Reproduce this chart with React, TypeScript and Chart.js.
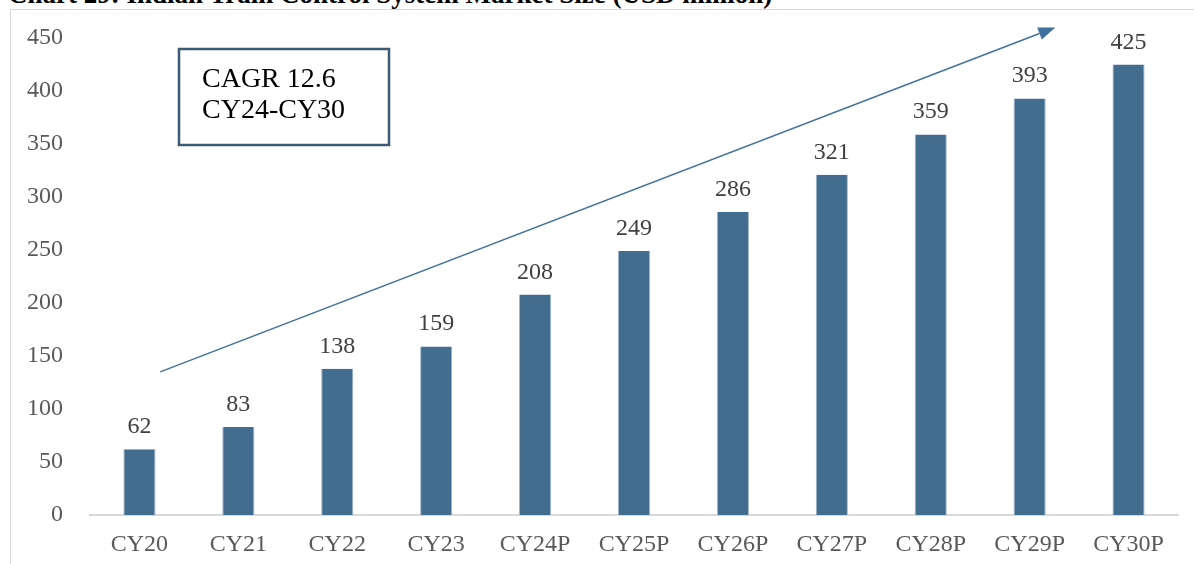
import React, { useEffect, useRef } from "react";
import { Chart, registerables } from "chart.js";

Chart.register(...registerables);

const categories = ["CY20", "CY21", "CY22", "CY23", "CY24P", "CY25P", "CY26P", "CY27P", "CY28P", "CY29P", "CY30P"];
const marketSize = [62, 83, 138, 159, 208, 249, 286, 321, 359, 393, 425];
const yTicks = [0, 50, 100, 150, 200, 250, 300, 350, 400, 450];
const titleText = "Chart 29: Indian Train Control System Market Size (USD million)";
const cagrLines = ["CAGR 12.6", "CY24-CY30"];
// arrow in data space: [category index, value]
const arrowStart = [0.21, 135];
const arrowEnd = [9.26, 460];

const FONT = "'Liberation Serif', 'Times New Roman', serif";

const overlayPlugin = {
  id: "overlay",
  afterDatasetsDraw(chart: any) {
    const { ctx } = chart;
    const xs = chart.scales.x;
    const ys = chart.scales.y;
    const meta = chart.getDatasetMeta(0);
    // data labels
    ctx.save();
    ctx.font = `24px ${FONT}`;
    ctx.fillStyle = "#404040";
    ctx.textAlign = "center";
    ctx.textBaseline = "alphabetic";
    meta.data.forEach((bar: any, i: number) => {
      ctx.fillText(String(marketSize[i]), bar.x, bar.y - 16);
    });
    ctx.restore();

    // arrow
    const step = xs.getPixelForValue(1) - xs.getPixelForValue(0);
    const x0 = xs.getPixelForValue(0) + arrowStart[0] * step;
    const y0 = ys.getPixelForValue(arrowStart[1]);
    const x1 = xs.getPixelForValue(0) + arrowEnd[0] * step;
    const y1 = ys.getPixelForValue(arrowEnd[1]);
    const ang = Math.atan2(y1 - y0, x1 - x0);
    const headLen = 17;
    const headW = 6.5;
    const bx = x1 - headLen * Math.cos(ang);
    const by = y1 - headLen * Math.sin(ang);
    ctx.save();
    ctx.strokeStyle = "#41719c";
    ctx.fillStyle = "#41719c";
    ctx.lineWidth = 1.5;
    ctx.beginPath();
    ctx.moveTo(x0, y0);
    ctx.lineTo(bx, by);
    ctx.stroke();
    ctx.beginPath();
    ctx.moveTo(x1, y1);
    ctx.lineTo(bx + headW * Math.sin(ang), by - headW * Math.cos(ang));
    ctx.lineTo(bx - headW * Math.sin(ang), by + headW * Math.cos(ang));
    ctx.closePath();
    ctx.fill();
    ctx.restore();

    // CAGR box
    const bxl = 179;
    const bxt = 49;
    ctx.save();
    ctx.fillStyle = "#ffffff";
    ctx.fillRect(bxl, bxt, 210, 96);
    ctx.strokeStyle = "#3d5a74";
    ctx.lineWidth = 2.5;
    ctx.strokeRect(bxl, bxt, 210, 96);
    ctx.fillStyle = "#000000";
    ctx.font = `28px ${FONT}`;
    ctx.textAlign = "left";
    ctx.textBaseline = "alphabetic";
    ctx.fillText(cagrLines[0], bxl + 23, bxt + 38);
    ctx.fillText(cagrLines[1], bxl + 23, bxt + 69);
    ctx.restore();
  },
};

function App() {
  const ref = useRef<HTMLCanvasElement | null>(null);
  useEffect(() => {
    document.body.style.margin = "0";
    if (!ref.current) return;
    const chart = new Chart(ref.current, {
      type: "bar",
      data: {
        labels: categories,
        datasets: [
          {
            data: marketSize,
            backgroundColor: "#426d8f",
            borderColor: "#9fb5ca",
            borderWidth: { left: 1, right: 1, top: 0, bottom: 0 } as any,
            barPercentage: 0.325,
            categoryPercentage: 1,
          },
        ],
      },
      options: {
        animation: false,
        responsive: false,
        maintainAspectRatio: false,
        layout: { padding: { left: 0, right: 16, top: 38, bottom: 0 } },
        plugins: { legend: { display: false }, tooltip: { enabled: false }, title: { display: false } },
        scales: {
          x: {
            grid: { display: false, drawTicks: false },
            border: { display: true, color: "#d9d9d9", width: 2 },
            ticks: { color: "#595959", font: { family: FONT, size: 24 }, padding: 15, maxRotation: 0, autoSkip: false },
            afterFit: (s: any) => { s.height = 49; s.paddingLeft = 0; s.paddingRight = 0; },
          },
          y: {
            min: 0,
            max: 450,
            afterBuildTicks: (s: any) => { s.ticks = yTicks.map((v) => ({ value: v })); },
            grid: { display: false, drawTicks: false },
            border: { display: false },
            ticks: { color: "#595959", font: { family: FONT, size: 24 }, padding: 27 },
            afterFit: (s: any) => { s.width = 90; s.paddingTop = 0; s.paddingBottom = 0; },
          },
        },
      },
      plugins: [overlayPlugin],
    });
    return () => chart.destroy();
  }, []);
  return (
    <div style={{ position: "fixed", left: 0, top: 0, width: 1194, height: 564, overflow: "hidden", background: "#fff" }}>
      <div
        style={{
          position: "absolute",
          left: 8,
          top: -21,
          fontFamily: FONT,
          fontWeight: "bold",
          fontSize: 27,
          lineHeight: "30px",
          whiteSpace: "nowrap",
          color: "#000",
        }}
      >
        {titleText}
      </div>
      <div
        style={{
          position: "absolute",
          left: 10,
          top: 9,
          width: 1200,
          height: 600,
          border: "1.5px solid #d9d9d9",
          boxSizing: "border-box",
        }}
      />
      <canvas ref={ref} width={1194} height={564} style={{ position: "absolute", left: 0, top: 0 }} />
    </div>
  );
}

export default App;
